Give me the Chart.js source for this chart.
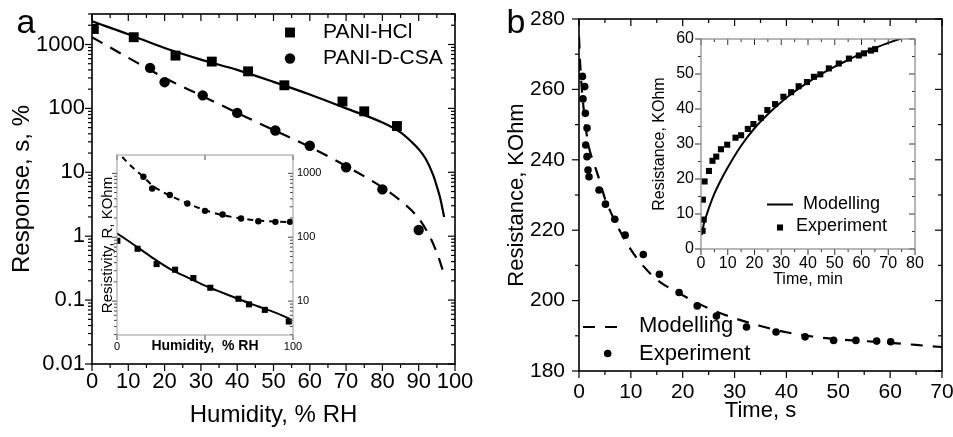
<!DOCTYPE html>
<html>
<head>
<meta charset="utf-8">
<script src="https://cdn.jsdelivr.net/npm/chart.js@4/dist/chart.umd.min.js"></script>
<style>
body{margin:0;background:#fff;width:953px;height:437px;overflow:hidden;position:relative}
canvas{position:absolute}
</style>
</head>
<body>
<canvas id="pa" width="480" height="437" style="left:0;top:0;width:480px;height:437px"></canvas>
<canvas id="pai" width="235" height="210" style="left:95px;top:150px;width:235px;height:210px"></canvas>
<canvas id="pb" width="473" height="437" style="left:480px;top:0;width:473px;height:437px"></canvas>
<canvas id="pbi" width="300" height="262" style="left:630px;top:30px;width:300px;height:262px"></canvas>
<script>
// panel a : response vs humidity
let humHCl = [0.5, 11.5, 23, 33, 43, 53, 69, 75, 84]
let respHCl = [1750, 1300, 670, 540, 380, 230, 128, 90, 53]
let humCSA = [16, 20, 30.5, 40, 50.5, 60, 70, 80, 90]
let respCSA = [430, 257, 160, 85, 45, 26, 12, 5.4, 1.25]
let fitHumHCl = [0, 10, 20, 30, 40, 50, 60, 70, 80, 85, 88, 90, 92, 94, 95, 96, 97]
let fitRespHCl = [2300, 1450, 880, 580, 400, 260, 165, 100, 60, 42, 30, 23, 16, 9, 6, 3.8, 2]
let fitHumCSA = [0, 10, 20, 30, 40, 50, 60, 70, 80, 85, 90, 93, 95, 96, 97]
let fitRespCSA = [1300, 620, 300, 160, 85, 46, 25, 12.5, 5.8, 3.6, 1.9, 1.0, 0.55, 0.38, 0.25]
let humTicks = [0, 10, 20, 30, 40, 50, 60, 70, 80, 90, 100]
let humLabels = ['0', '10', '20', '30', '40', '50', '60', '70', '80', '90', '100']
let respTicks = [0.01, 0.1, 1, 10, 100, 1000]
let respLabels = ['0.01', '0.1', '1', '10', '100', '1000']

// panel a inset : resistivity vs humidity
let inHumSq = [0.2, 11.7, 22.5, 33, 43.4, 53, 69, 75, 84, 97.6]
let inResSq = [88, 66, 38, 31, 23, 16.2, 10.9, 8.9, 7.3, 4.8]
let inHumCi = [15, 20, 30, 40, 50, 60, 70.5, 80.3, 90, 98.3]
let inResCi = [885, 580, 457, 338, 259, 227, 196, 178, 174, 174]
let inFitHumSq = [0, 10, 20, 30, 40, 50, 60, 70, 80, 90, 98]
let inFitResSq = [115, 75, 48, 32, 23.5, 17.5, 13.5, 10.5, 8.3, 6.6, 5.3]
let inFitHumCi = [3, 8, 15, 20, 25, 30, 40, 50, 60, 70, 80, 90, 98]
let inFitResCi = [1800, 1300, 880, 650, 530, 450, 340, 265, 222, 198, 183, 176, 173]
let inHumTicks = [0, 50, 100]
let inHumLabels = ['0', '', '100']
let inResTicks = [10, 100, 1000]
let inResLabels = ['10', '100', '1000']

// panel b : resistance vs time (s)
let timeExp = [0.66, 1.1, 0.77, 1.23, 1.55, 1.3, 1.55, 1.74, 1.93, 3.86, 5.1, 6.9, 8.9, 12.4, 15.5, 19.3, 22.8, 26.5, 32.3, 38.0, 43.6, 49.1, 53.4, 57.4, 60.1]
let resExp = [263.7, 260.8, 257.3, 253.2, 249.0, 244.2, 240.9, 237.1, 235.2, 231.4, 227.4, 223.1, 218.6, 213.1, 207.5, 202.3, 198.5, 195.6, 192.5, 191.1, 189.7, 188.7, 188.7, 188.5, 188.3]
let timeMod = [0, 0.2, 0.5, 1, 1.5, 2, 3, 4, 5, 6, 8, 10, 12, 15, 20, 25, 30, 35, 40, 45, 50, 55, 60, 65, 70]
let resMod = [275, 268, 261, 253, 247, 243, 238.5, 234, 229, 225.5, 219.5, 214.5, 210.5, 206, 201.5, 197.8, 195, 192.8, 191, 189.8, 189, 188.5, 188, 187.4, 186.8]
let timeTicks = [0, 10, 20, 30, 40, 50, 60, 70]
let resTicks = [180, 200, 220, 240, 260, 280]

// panel b inset : resistance vs time (min)
let minExp = [0.6, 1.0, 0.7, 1.35, 2.98, 4.3, 5.7, 7.45, 9.8, 12.9, 15.0, 17.5, 19.6, 22.4, 24.8, 27.7, 30.8, 33.7, 36.5, 39.6, 42.2, 44.6, 47.8, 51.5, 55.3, 59.0, 60.9, 63.5, 65.1]
let kohmExp = [5.2, 8.4, 14.1, 19.3, 22.3, 25.2, 26.4, 28.5, 29.8, 31.8, 32.5, 34.3, 35.7, 37.5, 39.7, 41.4, 43.5, 44.8, 46.5, 47.7, 49.2, 49.9, 51.6, 53.0, 54.4, 55.3, 55.9, 56.7, 57.1]
let minMod = [0.3, 1, 2, 3, 5, 7.5, 10, 15, 20, 25, 30, 35, 40, 45, 50, 55, 60, 65, 70, 75]
let kohmMod = [4, 7, 9.5, 11.8, 15.8, 19.8, 23.3, 29.5, 34.5, 38.5, 42, 45, 47.6, 50, 52.1, 54, 55.8, 57.4, 58.9, 60.2]
let minTicks = [0, 10, 20, 30, 40, 50, 60, 70, 80]
let kohmTicks = [0, 10, 20, 30, 40, 50, 60]

const FONT = '"Liberation Sans", Arial, sans-serif'

const pts = (xs, ys) => xs.map((x, i) => ({x: x, y: ys[i]}))
const logMinor = (lo, hi, max) => {
    let out = []
    for (let e = lo; e <= hi; e++) for (let m = 2; m < 10; m++) out.push(m * Math.pow(10, e))
    return out.filter(v => v <= max)
}
const halfSteps = (ticks) => ticks.slice(1).map((v, i) => (v + ticks[i]) / 2)

// box round the plot with ticks on all four sides
const framePlugin = {
    id: 'frame',
    beforeDatasetsDraw(chart, args, o) {
        if (!o.fill) return
        let a = chart.chartArea
        chart.ctx.save()
        chart.ctx.fillStyle = o.fill
        chart.ctx.fillRect(a.left, a.top, a.right - a.left, a.bottom - a.top)
        chart.ctx.restore()
    },
    afterDatasetsDraw(chart, args, o) {
        if (!o.major) return
        let a = chart.chartArea, ctx = chart.ctx
        let xs = chart.scales.x, ys = chart.scales.y
        ctx.save()
        ctx.strokeStyle = o.tickColor
        ctx.lineWidth = o.tickWidth
        let line = (x1, y1, x2, y2) => { ctx.beginPath(); ctx.moveTo(x1, y1); ctx.lineTo(x2, y2); ctx.stroke() }
        let doX = (vals, len) => vals.forEach(v => {
            let px = xs.getPixelForValue(v)
            line(px, a.bottom, px, a.bottom + len)
            line(px, a.top, px, a.top + len)
        })
        let doY = (vals, len) => vals.forEach(v => {
            let py = ys.getPixelForValue(v)
            line(a.left - len, py, a.left, py)
            line(a.right - len, py, a.right, py)
        })
        doX(xs.ticks.map(t => t.value), o.major)
        doX(o.xMinor || [], o.minor)
        doY(ys.ticks.map(t => t.value), o.major)
        doY(o.yMinor || [], o.minor)
        ctx.strokeStyle = o.color
        ctx.lineWidth = o.width
        ctx.strokeRect(a.left, a.top, a.right - a.left, a.bottom - a.top)
        ctx.restore()
    }
}

// legend entries and panel letters
const keyPlugin = {
    id: 'keys',
    afterDatasetsDraw(chart, args, o) {
        let ctx = chart.ctx
        ctx.save()
        ctx.fillStyle = '#000'
        ctx.strokeStyle = '#000'
        ;(o.items || []).forEach(it => {
            let ds = chart.data.datasets[it.ds]
            if (it.line) {
                ctx.lineWidth = ds.borderWidth
                ctx.setLineDash(ds.borderDash || [])
                ctx.beginPath(); ctx.moveTo(it.line[0], it.y); ctx.lineTo(it.line[1], it.y); ctx.stroke()
                ctx.setLineDash([])
            } else {
                Chart.helpers.drawPoint(ctx, {pointStyle: ds.pointStyle, radius: ds.pointRadius, rotation: 0, borderWidth: 0}, it.mx, it.y)
            }
            ctx.font = o.font
            ctx.textAlign = 'left'
            ctx.textBaseline = 'middle'
            ctx.fillText(ds.label, it.tx, it.ty || it.y)
        })
        ;(o.texts || []).forEach(t => {
            ctx.font = t.font
            ctx.textAlign = 'left'
            ctx.textBaseline = 'alphabetic'
            ctx.fillText(t.text, t.x, t.y)
        })
        ctx.restore()
    }
}

const markers = (label, data, style, r) => ({label: label, data: data, showLine: false, pointStyle: style, pointRadius: r, backgroundColor: '#000', borderWidth: 0})
const curve = (label, data, w, dash) => ({label: label, data: data, showLine: true, pointRadius: 0, borderColor: '#000', borderWidth: w, borderDash: dash, cubicInterpolationMode: 'monotone', fill: false})

function axis(min, max, ticks, labels, size, pad, fitSize, horizontal, extra) {
    let ax = {
        type: 'linear', min: min, max: max,
        grid: {display: false, drawTicks: false}, border: {display: false},
        ticks: {font: {family: FONT, size: size}, color: '#000', padding: pad, maxRotation: 0, minRotation: 0, autoSkip: false,
            callback: (v, i) => labels ? labels[i] : String(ticks[i])},
        afterBuildTicks: s => { s.ticks = ticks.map(v => ({value: v})) },
        afterFit: s => {
            if (horizontal) { s.height = fitSize; s.paddingLeft = 0; s.paddingRight = 0 }
            else { s.width = fitSize; s.paddingTop = 0; s.paddingBottom = 0 }
        }
    }
    return Object.assign(ax, extra || {})
}
const title = (text, size, pad, bold) => ({display: true, text: text, color: '#000', font: {family: FONT, size: size, weight: bold ? 'bold' : 'normal'}, padding: pad})

function make(id, datasets, scales, padding, frame, keys) {
    return new Chart(document.getElementById(id), {
        type: 'scatter',
        data: {datasets: datasets},
        options: {
            responsive: false, devicePixelRatio: 1, animation: false, events: [],
            layout: {padding: padding},
            scales: scales,
            plugins: {legend: {display: false}, tooltip: {enabled: false}, frame: frame, keys: keys}
        },
        plugins: [framePlugin, keyPlugin]
    })
}

// panel a
make('pa', [
    markers('PANI-HCl', pts(humHCl, respHCl), 'rect', 7),
    markers('PANI-D-CSA', pts(humCSA, respCSA), 'circle', 5.2),
    curve('PANI-HCl model', pts(fitHumHCl, fitRespHCl), 2.2, []),
    curve('PANI-D-CSA model', pts(fitHumCSA, fitRespCSA), 2.2, [12, 9])
], {
    x: axis(0, 100, humTicks, humLabels, 22, 5, 73, true, {title: title('Humidity, % RH', 24, {top: 0, bottom: 7})}),
    y: axis(0.01, 3000, respTicks, respLabels, 22, 7, 92, false, {type: 'logarithmic', title: title('Response, s, %', 24, {top: 7.5, bottom: 0})})
}, {left: 0, top: 14, right: 25, bottom: 0},
{color: '#000', width: 1.6, tickColor: '#000', tickWidth: 1.2, major: 7, minor: 4, xMinor: halfSteps(humTicks), yMinor: logMinor(-2, 3, 3000)},
{font: '21px ' + FONT, items: [{ds: 0, mx: 290, y: 32.5, tx: 323}, {ds: 1, mx: 290, y: 58.5, tx: 323}],
    texts: [{text: 'a', x: 16.5, y: 32.5, font: '34px ' + FONT}]})

// panel a inset
make('pai', [
    markers('squares', pts(inHumSq, inResSq), 'rect', 4.3),
    markers('circles', pts(inHumCi, inResCi), 'circle', 3.2),
    curve('squares model', pts(inFitHumSq, inFitResSq), 2, []),
    curve('circles model', pts(inFitHumCi, inFitResCi), 2, [6, 5])
], {
    x: axis(0, 100, inHumTicks, inHumLabels, 11, 5, 25, true, {title: title('Humidity,  % RH', 14, {top: 0, bottom: 5.5}, true)}),
    y: axis(2.95, 1937, inResTicks, inResLabels, 11, 4, 22, false, {type: 'logarithmic', ticks: {display: false}, title: title('Resistivity, R, KOhm', 15, {top: 3.5, bottom: 0})}),
    y2: axis(2.95, 1937, inResTicks, inResLabels, 11, 4, 37, false, {type: 'logarithmic', position: 'right'})
}, {left: 0, top: 5, right: 0, bottom: 0},
{fill: '#fff', color: '#999', width: 1, tickColor: '#444', tickWidth: 1, major: 5, minor: 3, xMinor: [], yMinor: logMinor(0, 3, 1937).filter(v => v >= 2.95)},
{})

// panel b
make('pb', [
    markers('Experiment', pts(timeExp, resExp), 'circle', 3.8),
    curve('Modelling', pts(timeMod, resMod), 2.2, [12, 10])
], {
    x: axis(0, 70, timeTicks, null, 21, 9, 66, true, {title: title('Time, s', 22, {top: 0, bottom: 12.5})}),
    y: axis(180, 280, resTicks, null, 21, 14, 99, false, {title: title('Resistance, KOhm', 22, {top: 23.8, bottom: 0})})
}, {left: 0, top: 19, right: 11, bottom: 0},
{color: '#000', width: 1.6, tickColor: '#000', tickWidth: 1.2, major: 7, minor: 4, xMinor: halfSteps(timeTicks), yMinor: halfSteps(resTicks)},
{font: '22px ' + FONT, items: [{ds: 1, line: [103, 139], y: 327, tx: 159, ty: 326}, {ds: 0, mx: 127.7, y: 353.5, tx: 159}],
    texts: [{text: 'b', x: 26.5, y: 33.3, font: '34px ' + FONT}]})

// panel b inset
make('pbi', [
    markers('Experiment', pts(minExp, kohmExp), 'rect', 4.3),
    curve('Modelling', pts(minMod, kohmMod), 2, [])
], {
    x: axis(0, 80, minTicks, null, 16, 4.7, 43, true, {title: title('Time, min', 16, {top: 0, bottom: 2.4})}),
    y: axis(0, 60, kohmTicks, null, 16, 7, 71, false, {title: title('Resistance, KOhm', 16, {top: 20.4, bottom: 0})})
}, {left: 0, top: 9, right: 15, bottom: 0},
{fill: '#fff', color: '#888', width: 1.2, tickColor: '#333', tickWidth: 1, major: 6, minor: 3, xMinor: halfSteps(minTicks), yMinor: halfSteps(kohmTicks)},
{font: '18px ' + FONT, items: [{ds: 1, line: [137, 163], y: 174.5, tx: 173}, {ds: 0, mx: 150, y: 197.5, tx: 166, ty: 196}]})
</script>
</body>
</html>
